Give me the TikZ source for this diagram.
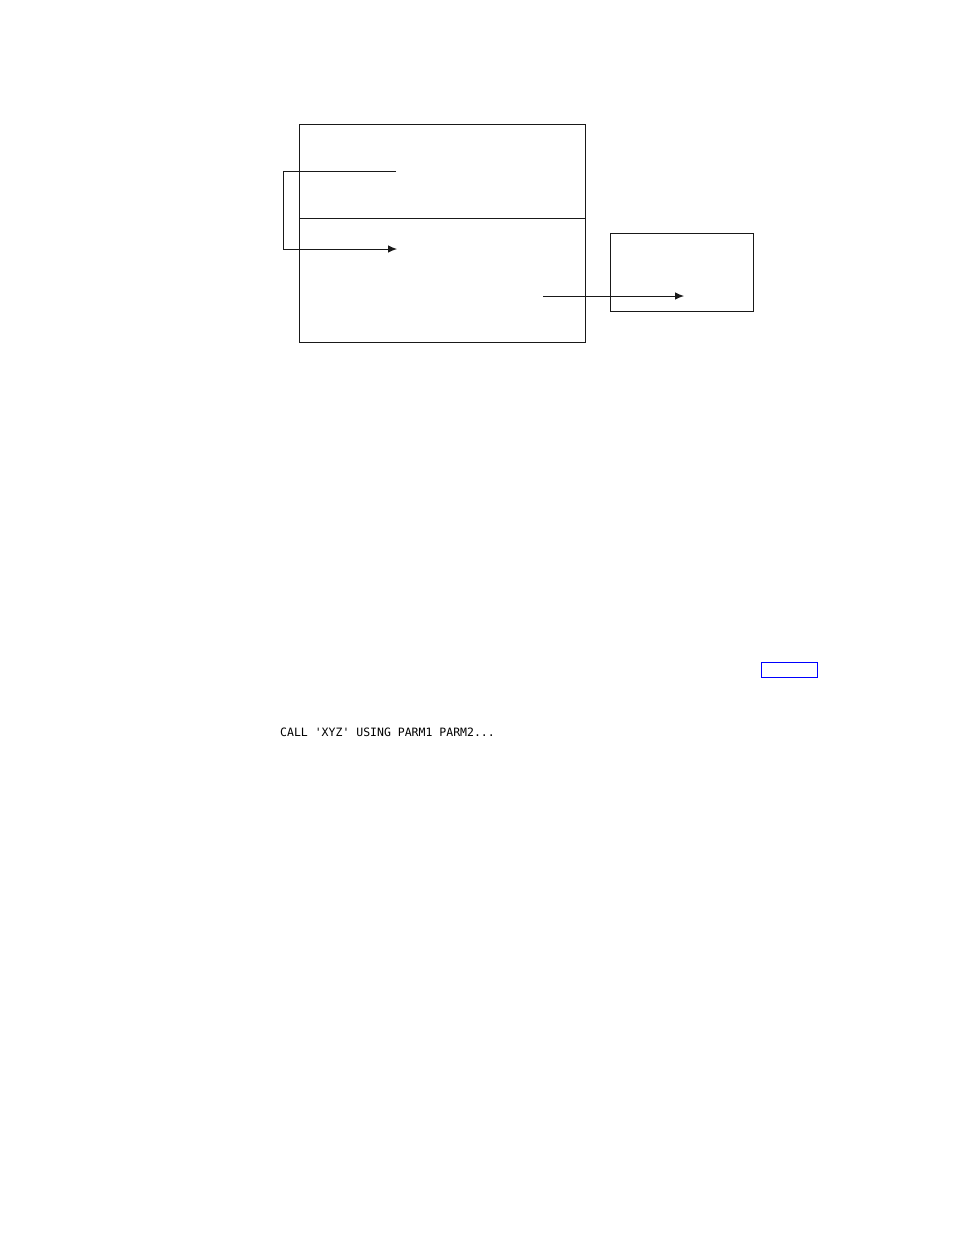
\documentclass[tikz,border=0pt]{standalone}
\usepackage{fontspec}
\setmonofont{DejaVu Sans Mono}
\usetikzlibrary{arrows.meta}
\begin{document}
\begin{tikzpicture}[x=1pt,y=-1pt,
  frame/.style={draw=black!90,line width=0.9pt,inner sep=0pt,outer sep=0pt,anchor=north west},
  conn/.style={draw=black!90,line width=0.9pt},
  arr/.style={conn,-{Latex[length=9pt,width=7.5pt]}}]
\useasboundingbox (0,0) rectangle (954,1235);
% main box
\node[frame,minimum width=286pt,minimum height=218pt] (main) at (299,124) {};
\coordinate (divL) at (299,218.5);
\coordinate (divR) at (585,218.5);
\draw[conn] (divL) -- (divR);
% small box
\node[frame,minimum width=143pt,minimum height=78pt] (small) at (610,233) {};
% bracket connector
\coordinate (bs) at (396,171.5);
\coordinate (be) at (397,249);
\draw[arr] (bs) -- (283.5,171.5) -- (283.5,249) -- (be);
% arrow into small box
\coordinate (as) at (543,296);
\coordinate (ae) at (684,296);
\draw[arr] (as) -- (ae);
% blue link box
\node[draw=blue,line width=1.5pt,minimum width=56pt,minimum height=15pt,inner sep=0pt,outer sep=0pt,anchor=north west] (link) at (761.5,662.5) {};
% code text
\node[anchor=base west,inner sep=0pt,font=\ttfamily\fontsize{11.5}{13}\selectfont] (code) at (280,736) {CALL 'XYZ' USING PARM1 PARM2...};
\end{tikzpicture}
\end{document}
